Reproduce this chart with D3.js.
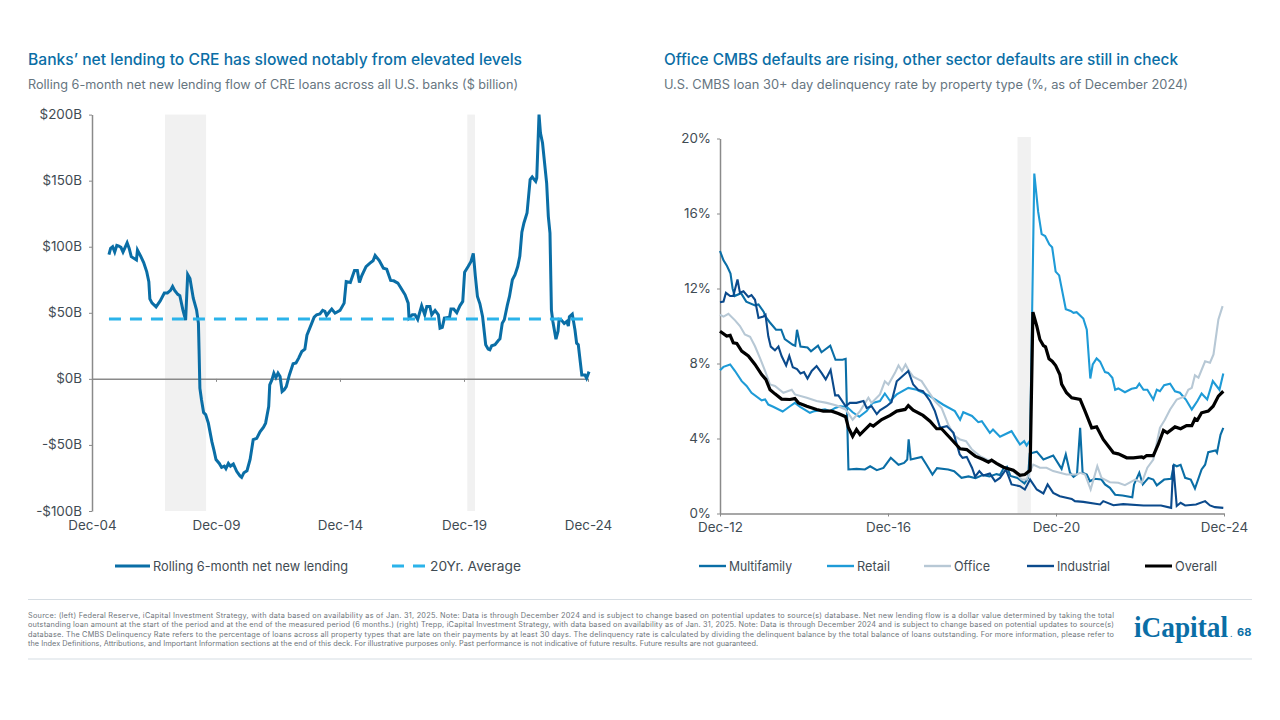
<!DOCTYPE html>
<html><head><meta charset="utf-8">
<script src="https://cdn.jsdelivr.net/npm/d3@7/dist/d3.min.js"></script>
<style>html,body{margin:0;padding:0;background:#fff;overflow:hidden}svg{display:block}text{font-family:Inter,"Open Sans",sans-serif}</style>
</head><body><svg id="c" width="1280" height="720"></svg>
<script>
// months are counted from the first tick of each chart
const leftTickMonths=[0,60,120,180,240];
const leftTickLabels=["Dec-04","Dec-09","Dec-14","Dec-19","Dec-24"];
const leftValueTicks=[-100,-50,0,50,100,150,200];
const leftRecessions=[[35.3,55.2],[181.6,185.3]];
const averageMonths=[8.2,237.8];
const averageValues=[45.4,45.4];
const lendingMonths=[8.2,9,10,11,12,13,14,15,17,18,19,21,21.5,22,23.5,25,26.5,27.5,28,29,31,33,35,36.5,38,39,40,41.5,42.5,44,45.3,46.3,47.4,49,50.6,51.5,51.8,52.2,53,54,55,56.3,58,59,60,61.6,62.7,64,64.8,66,67,68.4,70,71.6,72.4,73.5,75,76.5,78,79.7,81.3,83,84,85.5,86,87,88,89,90,91,92,93,94,95.5,97.3,98.7,100,101.5,103,104,106.3,107.5,108.7,110.3,111.6,112.7,113.5,115,116,117.6,120,122,123,125,127,128.4,129.4,130.5,132.6,134.5,136,137,139,141,142.6,144.5,146,148,150,151.5,153,153.4,155,156.3,157.6,159.5,161,162,163.5,164.4,166,167.6,168.4,169.5,170.5,173,173.7,175,176.5,178,179.4,180.3,182,183.4,184.5,185.5,186.5,187.7,189,190.5,191.7,192.5,193.4,195,196.6,197.4,198.5,199.5,201,202,203.4,204.7,206,207,208,209,210.5,212,213,214.7,215.2,216.3,217,218,220,220.8,221.6,222.3,223,224.5,225.5,226,227,228.5,229.7,230.5,231,232.4,233.7,234.5,235.3,237,238.5,239.3,240.5];
const lendingValues=[94,98.7,100,96,101,100.5,99.5,96,103,98.7,92.5,90.5,90,97.5,93,88,81,73.5,60.5,57.5,54.5,59,65,65,67,70,67,64,63,52,44.5,79,76,61,52,42,22,-7,-16,-25.5,-27,-33.5,-47.5,-54,-61,-64,-67,-66,-68,-64,-66,-64.4,-70,-73.5,-74.5,-71,-69.5,-61,-46,-45,-40,-36.5,-33.5,-21,-4.5,-1,4.3,1,4.3,1.8,-9.6,-8.3,-5.8,3,11.4,12,15.7,20.7,22.5,33,42,46.7,48.5,49.2,51.8,51,48,51,52.8,49.7,51.8,57.3,73.7,73,82,82,73,78,85,87.6,89.4,93.4,89.6,83.8,83,74.5,74.2,72.5,67.4,63.6,57.3,46,48.5,48.5,45,55.3,48.5,54.8,54.8,48.5,51.8,48.5,38.4,39,46,46.7,52.8,52.8,50,55.3,58.6,80.8,85,88.9,95,77.5,62.4,56.8,47,25.8,22.5,22,25,25.8,29,30.3,42,44.7,56,62.4,75,78.8,85,92.7,111,118,125.5,150.8,152.8,149.5,152,200,186,178.5,148,123,110.4,52,43.4,30,36,45,44.7,42,43.4,40,47,49,37,27,25.8,3,3,0.5,5.5];

const rightTickMonths=[0,48,96,144];
const rightTickLabels=["Dec-12","Dec-16","Dec-20","Dec-24"];
const rightValueTicks=[0,4,8,12,16,20];
const rightRecessions=[[85,88.8]];
const multifamilyMonths=[0,1,2,3,3.6,4.2,6,7.5,10,11,12.5,13,14.2,16,17.5,18.5,20.8,21.5,22,23,25,26,28,29,31.5,33,35,35.9,36.7,39,41.4,42.9,44.8,46.7,48.8,51,52.6,53.5,53.9,54.5,57.6,59,60.7,62,65.2,66.9,69,71,73,75,77,79,80,81,82,83,85,87,88,88.5,90.5,92.4,95.2,97.6,98.8,100,101,102,102.9,103.6,104.8,105.7,107,109,110,111.4,112.9,115,117.8,118.3,119.8,120.8,122.4,123.8,124.8,126.9,128.9,129.7,130.5,131.6,132.9,134.5,135.7,137.6,138.6,139.5,141.6,142,143,143.8];
const multifamilyValues=[14,13.5,13.2,12.8,12,11.6,11.75,11.3,11.1,11.15,10.75,10.5,10.2,9.8,9.8,9.3,9,8.95,9.8,8.9,8.85,8.65,8.95,8.6,8.95,8.2,8.2,8.25,2.35,2.38,2.35,2.52,2.31,2.43,2.97,2.6,2.7,2.88,3.95,2.88,3.02,2.6,2.08,2.42,2.35,2.26,1.9,1.98,1.88,2.05,1.98,2.1,2.05,2.4,2.5,2,1.9,1.6,1.9,3.2,3.3,2.88,3.09,2.38,3.15,2.17,1.96,2.1,4.57,2.17,2.08,1.72,1.85,1.81,1.55,1.37,1,0.96,0.87,1.55,2.17,1.55,1.9,1.81,1.5,1.81,1.85,2.6,2.52,2.6,1.9,1.81,1.33,2.35,2.6,3.27,3.36,3.24,4.2,4.57];
const retailMonths=[0,1,2.9,4.3,6.2,7.6,9,11.9,12.9,13.8,15.2,17.9,20,21.4,22.9,25.7,27,30,31.4,32.9,34.3,36.2,37.9,39.8,41.9,43.6,45.7,47.1,48.6,50.5,53.8,56.2,58,60,63.8,67.1,68.6,69.5,72,73.8,74.8,77.1,78,80,83.3,85.7,86.9,87.6,88.6,89.8,90.9,91.9,92.9,94.1,94.9,95.9,96.9,98.8,100.2,101,101.9,103.8,104.8,105.8,106.5,107.6,108.6,110,110.9,112.1,112.9,113.8,115.7,117.6,119,119.8,121,122.1,123.8,124.8,125.7,126.9,128.6,130,131.4,133.1,134.8,136.4,137.6,139.2,140.8,142.7,143.8];
const retailValues=[7.64,7.82,7.95,7.6,7.06,6.8,6.44,6.04,6.08,5.81,5.69,5.44,5.72,5.9,5.69,5.37,5.46,5.55,5.46,5.63,5.72,5.69,5.4,5.16,5.46,5.9,6,6.4,6,6.35,6.7,6.6,6.44,6.26,5.8,5.46,5,5.4,5.2,4.87,4.92,4.3,4.48,4.09,4.39,3.68,3.86,3.63,3.9,18.13,16.1,14.9,14.8,14.35,14.2,12.9,12.7,10.9,10.8,10.7,10.74,10.4,9.8,7.2,7.95,8.27,8.1,7.54,7.5,7.24,6.6,6.67,6.47,6.65,6.7,6.93,6.6,6.6,6.08,6.6,6.52,6.84,6.92,6.52,6.44,6.08,5.55,6,6.4,6.08,7.06,6.6,7.47];
const officeMonths=[0,1,2.4,4.3,5.7,7.1,8.6,10,11.4,12.9,14.3,15.7,18.1,20.5,21.4,24.8,27.6,30.5,33.3,35.9,37.9,40,42.4,43.3,45.7,47.1,48.1,50,51,52,53,54,55.2,57.6,59.5,61.4,63.3,65.2,67.1,68.6,70.3,72,74.3,76.2,78,80,81.9,83.8,86.2,87.6,88.6,89.5,91.4,93.3,95.2,97.1,99,101.9,102.9,104.3,105.9,107.8,109,111.4,113.8,115.7,118.6,120.5,122.1,123.8,125.7,127.1,128.6,130.5,132.9,133.8,134.8,135.7,136.7,138.6,140,141,142.4,143.6];
const officeValues=[10.6,10.5,10.65,10.3,10,9.55,9.42,8.92,8.3,7.6,6.88,6.8,6.44,6.6,6.35,6.17,6,5.9,5.76,5.55,5,5.46,6.17,5.9,6.35,7.05,6.88,7.5,7.9,7.6,7.95,7.6,7.3,7.06,6.52,6,5.63,4.75,4.12,3.95,3.86,3.41,3.06,2.88,2.79,2.52,2.44,2.26,1.81,1.81,2.26,2.61,2.44,2.44,2.26,2.17,2.08,2.08,2.17,2.08,1.28,2.52,1.9,1.67,1.64,1.51,1.81,1.64,2.44,2.88,4.57,5,5.55,6.08,6.26,6.6,6.7,7.37,7.24,8.12,8.04,8.48,10.35,11.06];
const industrialMonths=[0,1,1.7,2.9,3.8,5,5.7,6.7,8.1,9,10,11,12.4,13,13.8,14.5,15.7,16.7,17.6,18.9,19.8,20.8,22,23,24,25,26.2,27.6,29,30.2,31.6,32.9,33.8,35.9,37.1,39,41,41.9,43.3,44.8,45.7,47.6,49,50.5,53.8,55.2,56.7,58,60,61.4,62.9,64.8,66.7,68.5,69.3,70.5,72,72.9,74.1,75.2,77.1,78.6,80,81.7,83.3,85.7,87.1,88.6,90.5,92.4,93.6,95.2,97.1,100.5,101.4,103.8,108.6,109.5,112.4,115.2,121,126,128.9,129.5,130.5,131.6,132.9,136,138.6,140,141.4,143.8];
const industrialValues=[11.27,11.3,11.77,11.6,11.6,12.48,11.77,11.85,11.55,11.65,11.4,10.43,10.5,10.6,9.45,8.9,8.7,8.9,8.4,7.9,8.4,7.8,7.7,7.47,7.54,7.2,7.6,7.86,7.5,7.15,7.65,6.3,6.3,5.72,5.9,5.9,6,5.63,5.72,5.3,5.5,5.72,5.94,7.05,7.6,6.88,6.58,6.52,6,5.46,4.57,4.66,4.3,3.15,2.97,3.02,2.44,1.96,2.26,2.03,2.13,1.72,1.9,2.35,1.55,1.46,1.28,1.81,1.28,1.07,1.55,1.1,0.92,0.78,0.66,0.62,0.48,0.66,0.44,0.5,0.43,0.43,0.3,2.6,0.4,0.57,0.43,0.48,0.66,0.43,0.34,0.3];
const overallMonths=[0,1.9,2.9,3.8,4.8,6.2,8.1,10,11.9,13.1,14.3,15.7,17.6,20,21.4,22.4,24.8,27.6,29.5,31.9,33.8,35.9,36.7,37.9,39,40,42.9,43.8,46.2,48.6,50.5,52.9,53.8,55.2,58,60,61.9,63.3,65.7,68.6,70.5,72.9,75.2,76.7,77.6,79,81,83.8,85.7,87.1,88.6,89.4,90.5,91.4,92.4,93,94,94.9,95.9,97.1,97.6,99,100.5,102.9,104.3,106.2,107.6,109.5,112.4,113.8,116.2,118.1,120.5,121,121.9,123.8,125.2,126.7,127.8,130,131.6,133.3,134.8,135.7,136.4,137.6,139.5,140.9,142.4,143.8];
const overallValues=[9.72,9.46,9.5,9.1,9.07,8.66,8.4,7.95,7.41,7.15,6.6,6.38,6.1,6.08,6.13,5.9,5.72,5.55,5.46,5.46,5.33,5.16,4.57,4.12,4.48,4.21,4.75,4.66,5.01,5.23,5.46,5.55,5.76,5.51,5.23,4.92,4.52,4.52,4.04,3.45,3.41,3.06,2.88,2.74,2.84,2.67,2.47,2.31,2.04,2.08,2.3,10.74,10,9.28,8.96,8.89,8.25,8.12,7.89,7.41,6.9,6.44,6.17,6.08,5.46,4.57,4.62,3.95,3.24,3.18,2.97,2.97,3.02,2.97,3.09,3.09,3.68,4.43,4.3,4.62,4.52,4.69,4.69,5.05,4.98,5.37,5.46,5.72,6.26,6.52];

const titleLeft="Banks\u2019 net lending to CRE has slowed notably from elevated levels";
const subLeft="Rolling 6-month net new lending flow of CRE loans across all U.S. banks ($ billion)";
const titleRight="Office CMBS defaults are rising, other sector defaults are still in check";
const subRight="U.S. CMBS loan 30+ day delinquency rate by property type (%, as of December 2024)";
const footer=[
"Source: (left) Federal Reserve, iCapital Investment Strategy, with data based on availability as of Jan. 31, 2025. Note: Data is through December 2024 and is subject to change based on potential updates to source(s) database. Net new lending flow is a dollar value determined by taking the total",
"outstanding loan amount at the start of the period and at the end of the measured period (6 months.) (right) Trepp, iCapital Investment Strategy, with data based on availability as of Jan. 31, 2025. Note: Data is through December 2024 and is subject to change based on potential updates to source(s)",
"database. The CMBS Delinquency Rate refers to the percentage of loans across all property types that are late on their payments by at least 30 days. The delinquency rate is calculated by dividing the delinquent balance by the total balance of loans outstanding. For more information, please refer to",
"the Index Definitions, Attributions, and Important Information sections at the end of this deck. For illustrative purposes only. Past performance is not indicative of future results. Future results are not guaranteed."];

const BLUE="#0a6ea6",SKY="#2bb3ea",RETAIL="#1e9bd7",OFFICE="#b7c8d5",NAVY="#0b4a8c",INK="#3f4b53",SUB="#66757f",AXIS="#8a8a8a",SHADE="#f1f1f1";
const svg=d3.select("#c");

function head(x,t,s,tw,sw){
  svg.append("text").attr("x",x).attr("y",64.5).attr("font-size",15.4).attr("font-weight",500).attr("fill",BLUE).attr("textLength",tw).attr("lengthAdjust","spacingAndGlyphs").text(t);
  svg.append("text").attr("x",x).attr("y",89).attr("font-size",12.6).attr("fill",SUB).attr("textLength",sw).attr("lengthAdjust","spacingAndGlyphs").text(s);
}
head(28,titleLeft,subLeft,494,490);
head(664,titleRight,subRight,514,524);

function axisStyle(g){
  g.selectAll("path.domain").attr("stroke",AXIS).attr("stroke-width",1.5);
  g.selectAll(".tick line").attr("stroke",AXIS).attr("stroke-width",1);
  g.selectAll("text").attr("fill",INK).attr("font-size",13.4).attr("font-family","Inter,'Open Sans',sans-serif");
}
const mkLine=(x,y)=>d3.line().x(d=>x(d[0])).y(d=>y(d[1]));
const zip=(a,b)=>a.map((v,i)=>[v,b[i]]);

// left chart
const xL=d3.scaleLinear().domain([0,240]).range([92,588]);
const yL=d3.scaleLinear().domain([-100,200]).range([511,114.6]);
leftRecessions.forEach(r=>svg.append("rect").attr("x",xL(r[0])).attr("width",xL(r[1])-xL(r[0])).attr("y",yL(200)).attr("height",yL(-100)-yL(200)).attr("fill",SHADE));
const fmtL=v=>(v<0?"-$"+(-v):"$"+v)+"B";
const gyL=svg.append("g").attr("transform","translate(92,0)").call(d3.axisLeft(yL).tickValues(leftValueTicks).tickFormat(fmtL).tickSize(3).tickSizeOuter(0));
axisStyle(gyL);gyL.selectAll("text").attr("x",-10).attr("dy","0.3em");
const gxL=svg.append("g").attr("transform",`translate(0,${yL(0)})`).call(d3.axisBottom(xL).tickValues(leftTickMonths).tickFormat((d,i)=>leftTickLabels[i]).tickSize(3).tickSizeOuter(0));
axisStyle(gxL);gxL.selectAll("text").attr("y",yL(-100)-yL(0)+9.5);
const lL=mkLine(xL,yL);
svg.append("path").datum(zip(lendingMonths,lendingValues)).attr("d",lL).attr("fill","none").attr("stroke",BLUE).attr("stroke-width",3).attr("stroke-linejoin","miter");
svg.append("path").datum(zip(averageMonths,averageValues)).attr("d",lL).attr("fill","none").attr("stroke",SKY).attr("stroke-width",3).attr("stroke-dasharray","12 9");

// right chart
const xR=d3.scaleLinear().domain([0,144]).range([720,1224]);
const yR=d3.scaleLinear().domain([0,20]).range([513.5,138.5]);
rightRecessions.forEach(r=>svg.append("rect").attr("x",xR(r[0])).attr("width",xR(r[1])-xR(r[0])).attr("y",137).attr("height",yR(0)-137).attr("fill",SHADE));
const gyR=svg.append("g").attr("transform","translate(720,0)").call(d3.axisLeft(yR).tickValues(rightValueTicks).tickFormat(d=>d+"%").tickSize(3).tickSizeOuter(0));
axisStyle(gyR);gyR.selectAll("text").attr("x",-9).attr("dy","0.3em");
const gxR=svg.append("g").attr("transform",`translate(0,${yR(0)})`).call(d3.axisBottom(xR).tickValues(rightTickMonths).tickFormat((d,i)=>rightTickLabels[i]).tickSize(3).tickSizeOuter(0));
axisStyle(gxR);gxR.selectAll("text").attr("y",8.5);
const lR=mkLine(xR,yR);
const series=[
 {n:"Multifamily",m:multifamilyMonths,v:multifamilyValues,c:BLUE,w:2.1,lx:699,tw:63},
 {n:"Retail",m:retailMonths,v:retailValues,c:RETAIL,w:2.1,lx:827,tw:33},
 {n:"Office",m:officeMonths,v:officeValues,c:OFFICE,w:2.1,lx:924,tw:36},
 {n:"Industrial",m:industrialMonths,v:industrialValues,c:NAVY,w:2.1,lx:1027,tw:53},
 {n:"Overall",m:overallMonths,v:overallValues,c:"#000",w:3.2,lx:1145,tw:42}];
series.forEach(s=>svg.append("path").datum(zip(s.m,s.v)).attr("d",lR).attr("fill","none").attr("stroke",s.c).attr("stroke-width",s.w));

// legends
function legend(x1,x2,tx,tw,label,c,w,dash){
  const l=svg.append("line").attr("x1",x1).attr("x2",x2).attr("y1",566).attr("y2",566).attr("stroke",c).attr("stroke-width",w);
  if(dash)l.attr("stroke-dasharray",dash);
  svg.append("text").attr("x",tx).attr("y",570.5).attr("font-size",13).attr("fill",INK).attr("textLength",tw).attr("lengthAdjust","spacingAndGlyphs").text(label);
}
legend(115,150,153,195,"Rolling 6-month net new lending",BLUE,3);
legend(392,425,430,91,"20Yr. Average",SKY,3,"12 9");
series.forEach(s=>legend(s.lx,s.lx+27,s.lx+30,s.tw,s.n,s.c,s.c==="#000"?3:2.4));

// footer
[599.5,659].forEach(y=>svg.append("line").attr("x1",28).attr("x2",1252).attr("y1",y).attr("y2",y).attr("stroke","#d6dde3").attr("stroke-width",1.2));
footer.forEach((t,i)=>{
  const e=svg.append("text").attr("x",28).attr("y",618+i*9.4).attr("font-size",7.3).attr("fill","#6d747a").text(t);
  e.attr("textLength",i<3?1086:730).attr("lengthAdjust","spacing");
});
svg.append("text").attr("x",1134).attr("y",636.5).attr("font-size",30).attr("font-weight",700).attr("fill",BLUE).style("font-family","'Liberation Serif',serif").attr("textLength",94).attr("lengthAdjust","spacingAndGlyphs").text("iCapital");
svg.append("text").attr("x",1230).attr("y",636.5).attr("font-size",10).attr("fill",BLUE).style("font-family","'Liberation Serif',serif").text(".");
svg.append("text").attr("x",1237).attr("y",636).attr("font-size",11).attr("font-weight",700).attr("fill",BLUE).text("68");
</script></body></html>
